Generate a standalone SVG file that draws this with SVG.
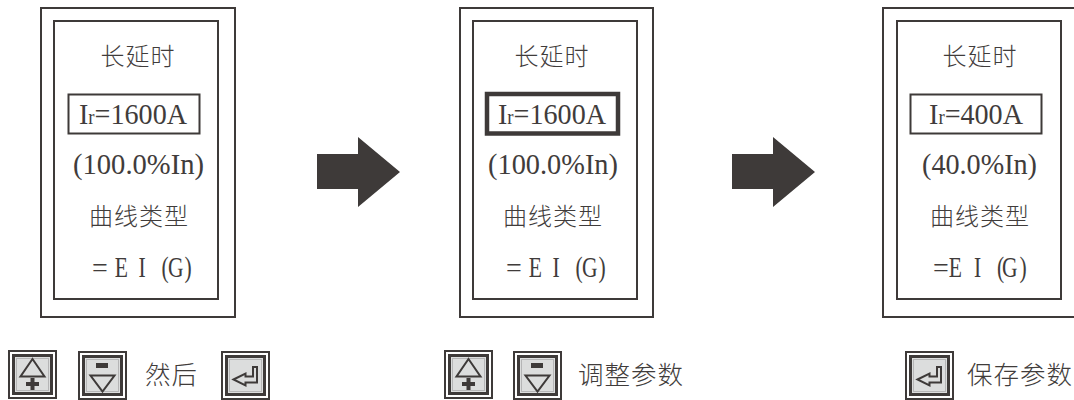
<svg xmlns="http://www.w3.org/2000/svg" width="1074" height="400" viewBox="0 0 1074 400">
<style>
.o{fill:#fff;stroke:#3e3a39;stroke-width:2}
.box{fill:#fff;stroke:#3e3a39;stroke-width:2}
.boxb{fill:#fff;stroke:#3e3a39;stroke-width:4.5}
text{fill:#3e3a39;opacity:.99}
.cn{font-family:"Noto Sans CJK SC","Noto Sans",sans-serif;font-size:24px;font-weight:300;text-anchor:middle;letter-spacing:1px}
.lb{font-family:"Noto Sans CJK SC","Noto Sans",sans-serif;font-size:25.5px;font-weight:300;letter-spacing:1px}
.en{font-family:"Liberation Serif",serif;font-size:30px}
.r{font-size:20px}
.eq{font-family:"Liberation Serif",serif;font-size:28px}
.tall{font-family:"Liberation Serif",serif;font-size:30px}
.bo{fill:#fff;stroke:#3e3a39;stroke-width:2}
.bi{fill:#dcdddd;stroke:#3e3a39;stroke-width:3}
.bl{fill:none;stroke:#b5b5b6;stroke-width:1}
.g{fill:none;stroke:#3e3a39;stroke-width:2}
.k{fill:#3e3a39}
</style>
<defs>
<g id="frame">
<rect class="bo" x="1" y="1" width="47" height="47"/>
<rect class="bi" x="5.500" y="5.500" width="38" height="38"/>
<rect class="bl" x="8.500" y="8.500" width="32" height="32"/>
</g>
<g id="plus"><use href="#frame"/><path class="g" d="M24.500 9L36.500 26.500H12.500Z"/><path class="k" d="M22.500 28h4v4h4.500v4h-4.500v4h-4v-4h-4.500v-4h4.500z"/></g>
<g id="minus"><use href="#frame"/><rect class="k" x="18" y="12" width="12" height="5"/><path class="g" d="M12.500 24.500H36.500L24.500 40.500Z"/></g>
<g id="enter"><use href="#frame"/><path class="g" d="M12.500 28.500L24.500 22.500V25.500H32V16H36V31.500H24.500V34.500Z"/></g>
</defs>
<g id="connectors">
<path class="k" d="M317 154H358V137L400 172L358 207V189H317Z"/>
<path class="k" d="M732 154H773V137L815 172L773 207V189H732Z"/>
</g>
<g id="panel1">
<rect class="o" x="41" y="8" width="194" height="309"/>
<rect class="o" x="54" y="21" width="164" height="278"/>
<text class="cn" x="138" y="65">长延时</text>
<rect class="box" x="68.500" y="94.500" width="131" height="39"/>
<text class="en" x="79" y="124" textLength="108" lengthAdjust="spacingAndGlyphs">I<tspan class="r">r</tspan>=1600A</text>
<text class="en" x="73" y="174" textLength="131" lengthAdjust="spacingAndGlyphs">(100.0%In)</text>
<text class="cn" x="139" y="225">曲线类型</text>
<text class="eq" x="92" y="277">=</text>
<text class="tall" transform="translate(91,277) scale(.72,1)" x="33 66 98 107 130">EI(G)</text>
</g>
<g id="panel2">
<rect class="o" x="460" y="8" width="193" height="309"/>
<rect class="o" x="473" y="21" width="164" height="278"/>
<text class="cn" x="552" y="65">长延时</text>
<rect class="boxb" x="487" y="94" width="131" height="39.500"/>
<text class="en" x="498" y="124" textLength="108" lengthAdjust="spacingAndGlyphs">I<tspan class="r">r</tspan>=1600A</text>
<text class="en" x="488" y="174" textLength="130" lengthAdjust="spacingAndGlyphs">(100.0%In)</text>
<text class="cn" x="553" y="225">曲线类型</text>
<text class="eq" x="506" y="277">=</text>
<text class="tall" transform="translate(505,277) scale(.72,1)" x="33 66 98 107 130">EI(G)</text>
</g>
<g id="panel3">
<rect class="o" x="883" y="8" width="194" height="309"/>
<rect class="o" x="897" y="21" width="164" height="278"/>
<text class="cn" x="980" y="65">长延时</text>
<rect class="box" x="910.500" y="94.500" width="131" height="39"/>
<text class="en" x="929" y="124" textLength="94" lengthAdjust="spacingAndGlyphs">I<tspan class="r">r</tspan>=400A</text>
<text class="en" x="922" y="174" textLength="115" lengthAdjust="spacingAndGlyphs">(40.0%In)</text>
<text class="cn" x="980" y="225">曲线类型</text>
<text class="eq" x="933" y="277">=</text>
<text class="tall" transform="translate(933,277) scale(.72,1)" x="22 57 89 96 120">EI(G)</text>
</g>
<g id="keys1">
<use href="#plus" x="8" y="350"/>
<use href="#minus" x="78" y="351"/>
<text class="lb" x="145" y="384">然后</text>
<use href="#enter" x="221" y="351"/>
</g>
<g id="keys2">
<use href="#plus" x="444" y="350"/>
<use href="#minus" x="513" y="351"/>
<text class="lb" x="578" y="384">调整参数</text>
</g>
<g id="keys3">
<use href="#enter" x="905" y="351"/>
<text class="lb" x="967" y="384">保存参数</text>
</g>
</svg>
